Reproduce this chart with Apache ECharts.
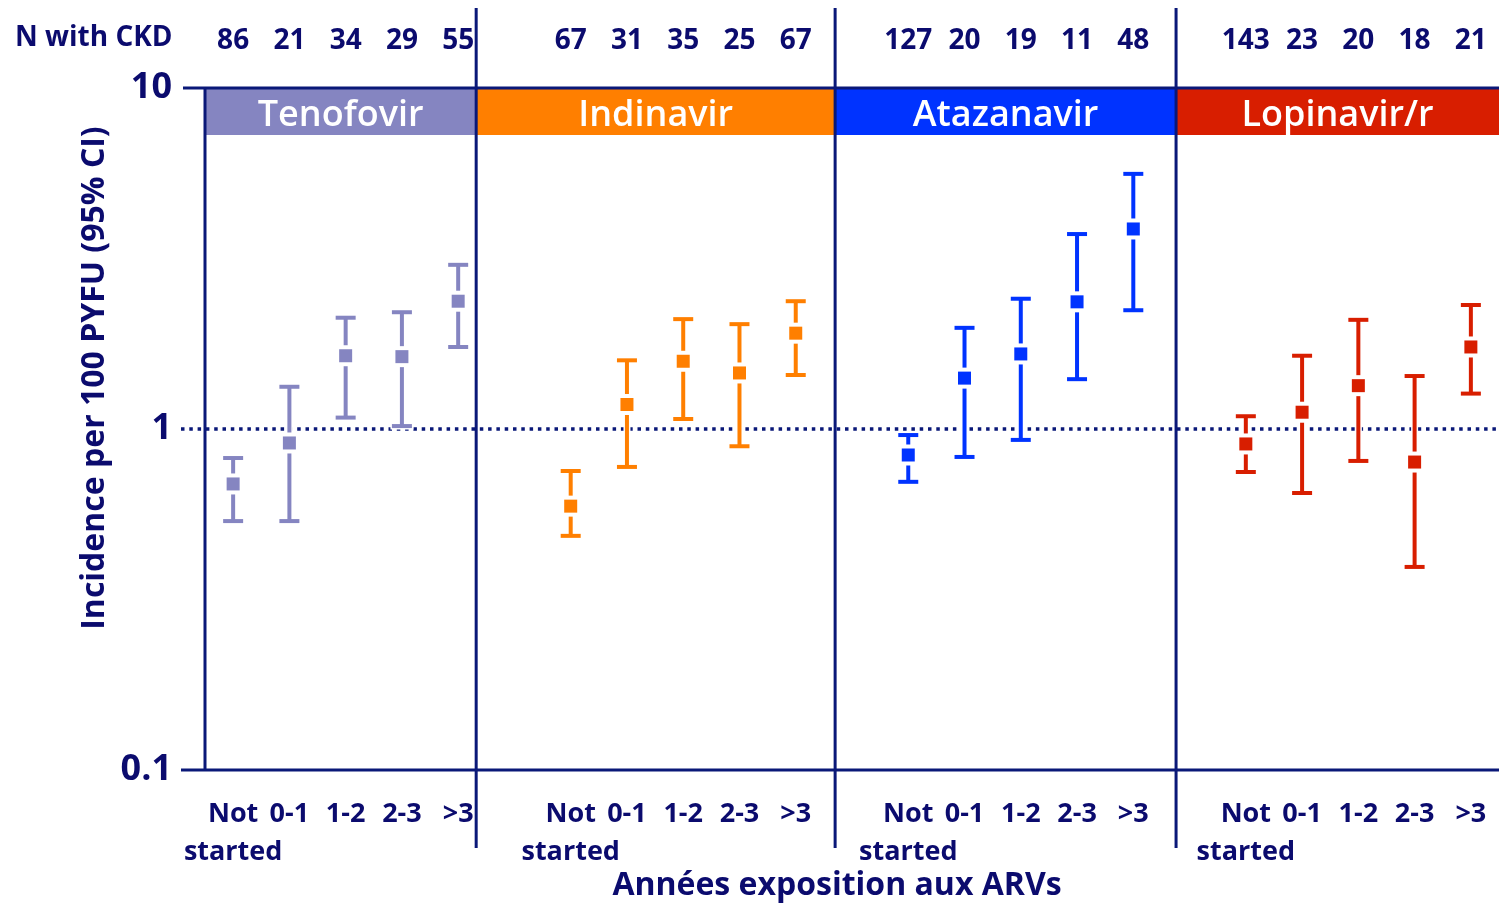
<!DOCTYPE html>
<html>
<head>
<meta charset="utf-8">
<script src="https://cdn.jsdelivr.net/npm/echarts@6/dist/echarts.min.js"></script>
<style>
html,body{margin:0;padding:0;background:#fff;}
#chart{width:1499px;height:904px;}
</style>
</head>
<body>
<div id="chart"></div>
<script>
// ---- Data ----
const groups = ['Tenofovir', 'Indinavir', 'Atazanavir', 'Lopinavir/r'];
const exposure = ['Not\nstarted', '0-1', '1-2', '2-3', '>3'];

const nTenofovir  = [86, 21, 34, 29, 55];
const nIndinavir  = [67, 31, 35, 25, 67];
const nAtazanavir = [127, 20, 19, 11, 48];
const nLopinavir  = [143, 23, 20, 18, 21];

const incTenofovir  = [0.69, 0.91, 1.64, 1.63, 2.37];
const lowTenofovir  = [0.537, 0.537, 1.08, 1.02, 1.74];
const highTenofovir = [0.822, 1.33, 2.12, 2.20, 3.03];

const incIndinavir  = [0.594, 1.18, 1.58, 1.46, 1.91];
const lowIndinavir  = [0.486, 0.774, 1.07, 0.89, 1.44];
const highIndinavir = [0.753, 1.59, 2.10, 2.03, 2.37];

const incAtazanavir  = [0.839, 1.41, 1.66, 2.36, 3.86];
const lowAtazanavir  = [0.70, 0.828, 0.929, 1.40, 2.23];
const highAtazanavir = [0.96, 1.98, 2.41, 3.73, 5.60];

const incLopinavir  = [0.904, 1.12, 1.34, 0.80, 1.74];
const lowLopinavir  = [0.748, 0.649, 0.806, 0.394, 1.27];
const highLopinavir = [1.09, 1.64, 2.09, 1.43, 2.31];

const yTicks = [0.1, 1, 10];

// ---- Styling / layout ----
const groupColors = ['#8585c1', '#ff7f00', '#0033ff', '#d81e00'];
const navy = '#0b0b6e';
const lineNavy = '#0a1878';
const FONT = '"Open Sans", "Noto Sans", sans-serif';
const GRID = {left: 205, right: 0, top: 88, bottom: 134};
const dividerUnits = [4.82, 11.2, 17.26]; // panel boundaries in category units

const nAll = [nTenofovir, nIndinavir, nAtazanavir, nLopinavir];
const incAll = [incTenofovir, incIndinavir, incAtazanavir, incLopinavir];
const lowAll = [lowTenofovir, lowIndinavir, lowAtazanavir, lowLopinavir];
const highAll = [highTenofovir, highIndinavir, highAtazanavir, highLopinavir];

const categories = [];
const topLabels = [];
const seriesData = groups.map(() => []);
groups.forEach((g, gi) => {
  if (gi > 0) { categories.push(''); topLabels.push(''); }
  exposure.forEach((e, i) => {
    const idx = categories.length;
    categories.push(e);
    topLabels.push(String(nAll[gi][i]));
    seriesData[gi].push([idx, lowAll[gi][i], highAll[gi][i], incAll[gi][i]]);
  });
});

function renderErrorBar(params, api) {
  const x = api.value(0);
  const pLo = api.coord([x, api.value(1)]);
  const pHi = api.coord([x, api.value(2)]);
  const pPt = api.coord([x, api.value(3)]);
  const color = api.visual('color');
  const cx = pPt[0];
  const capW = 20, capH = 4, lw = 4, sq = 13, gap = 4;
  return {
    type: 'group',
    children: [
      {type: 'line', shape: {x1: cx, y1: pHi[1], x2: cx, y2: pLo[1]}, style: {stroke: '#ffffff', lineWidth: lw + 3}},
      {type: 'rect', shape: {x: cx - capW / 2 - 1.5, y: pHi[1] - capH / 2 - 1.5, width: capW + 3, height: capH + 3}, style: {fill: '#ffffff'}},
      {type: 'rect', shape: {x: cx - capW / 2 - 1.5, y: pLo[1] - capH / 2 - 1.5, width: capW + 3, height: capH + 3}, style: {fill: '#ffffff'}},
      {type: 'line', shape: {x1: cx, y1: pHi[1], x2: cx, y2: pLo[1]}, style: {stroke: color, lineWidth: lw}},
      {type: 'rect', shape: {x: cx - capW / 2, y: pHi[1] - capH / 2, width: capW, height: capH}, style: {fill: color}},
      {type: 'rect', shape: {x: cx - capW / 2, y: pLo[1] - capH / 2, width: capW, height: capH}, style: {fill: color}},
      {type: 'rect', shape: {x: cx - sq / 2 - 1.5, y: pPt[1] - sq / 2 - gap, width: sq + 3, height: sq + 2 * gap}, style: {fill: '#ffffff'}},
      {type: 'rect', shape: {x: cx - sq / 2, y: pPt[1] - sq / 2, width: sq, height: sq}, style: {fill: color}}
    ]
  };
}

const chart = echarts.init(document.getElementById('chart'), null, {renderer: 'canvas'});

const option = {
  animation: false,
  backgroundColor: '#ffffff',
  grid: GRID,
  xAxis: [
    {
      type: 'category', data: categories, position: 'bottom',
      axisLine: {show: false}, axisTick: {show: false}, splitLine: {show: false},
      axisLabel: {interval: 0, color: navy, fontFamily: FONT, fontWeight: 'bold', fontSize: 27, lineHeight: 38, margin: 25, align: 'center'}
    },
    {
      type: 'category', data: topLabels, position: 'top',
      axisLine: {show: false}, axisTick: {show: false}, splitLine: {show: false},
      axisLabel: {interval: 0, color: navy, fontFamily: FONT, fontWeight: 'bold', fontSize: 28, margin: 33}
    }
  ],
  yAxis: {
    type: 'log', logBase: 10, min: yTicks[0], max: yTicks[yTicks.length - 1],
    axisLine: {show: false}, axisTick: {show: false}, splitLine: {show: false},
    axisLabel: {color: navy, fontFamily: FONT, fontWeight: 'bold', fontSize: 36, margin: 33,
      formatter: v => String(Number(v.toPrecision(3)))}
  },
  series: groups.map((g, gi) => ({
    type: 'custom', name: g, xAxisIndex: 0, yAxisIndex: 0,
    itemStyle: {color: groupColors[gi]},
    encode: {x: 0, y: [1, 2, 3]},
    renderItem: renderErrorBar,
    data: seriesData[gi],
    z: 5
  }))
};
chart.setOption(option);

// ---- Frame, panel headers, dividers ----
const W = 1499;
const gridW = W - GRID.left - GRID.right;
const band = gridW / categories.length;
const uToPx = u => GRID.left + u * band;
const yTop = chart.convertToPixel({yAxisIndex: 0}, yTicks[2]);
const yMid = chart.convertToPixel({yAxisIndex: 0}, yTicks[1]);
const yBot = chart.convertToPixel({yAxisIndex: 0}, yTicks[0]);
const bounds = [0].concat(dividerUnits, [categories.length]);
const headerH = 47;

const graphics = [];
groups.forEach((g, gi) => {
  const x0 = uToPx(bounds[gi]), x1 = uToPx(bounds[gi + 1]);
  graphics.push({type: 'rect', z: 1, shape: {x: x0, y: yTop, width: x1 - x0, height: headerH}, style: {fill: groupColors[gi]}});
  graphics.push({type: 'text', z: 3, x: (x0 + x1) / 2, y: yTop + headerH / 2 + 4,
    style: {text: g, fill: '#ffffff', font: '600 36px ' + FONT, textAlign: 'center', textVerticalAlign: 'middle'}});
});
// dotted reference line at 1
graphics.push({type: 'line', z: 2, shape: {x1: 181, y1: yMid, x2: W, y2: yMid},
  style: {stroke: lineNavy, lineWidth: 3.5, lineDash: [3.5, 4.8]}});
// top and bottom frame lines
graphics.push({type: 'line', z: 4, shape: {x1: 183, y1: yTop, x2: W, y2: yTop}, style: {stroke: lineNavy, lineWidth: 3}});
graphics.push({type: 'line', z: 4, shape: {x1: 181, y1: yBot, x2: W, y2: yBot}, style: {stroke: lineNavy, lineWidth: 3}});
// y axis
graphics.push({type: 'line', z: 4, shape: {x1: GRID.left, y1: yTop, x2: GRID.left, y2: yBot}, style: {stroke: lineNavy, lineWidth: 3}});
// panel dividers
dividerUnits.forEach(u => {
  const x = uToPx(u);
  graphics.push({type: 'line', z: 4, shape: {x1: x, y1: 8, x2: x, y2: 848}, style: {stroke: lineNavy, lineWidth: 3}});
});
graphics.push({type: 'text', z: 3, x: 15, y: 38,
  style: {text: 'N with CKD', fill: navy, font: 'bold 28px ' + FONT, textAlign: 'left', textVerticalAlign: 'middle'}});
graphics.push({type: 'text', z: 3, x: 837, y: 886,
  style: {text: 'Années exposition aux ARVs', fill: navy, font: 'bold 32px ' + FONT, textAlign: 'center', textVerticalAlign: 'middle'}});
graphics.push({type: 'text', z: 3, x: 95, y: 378, rotation: Math.PI / 2,
  style: {text: 'Incidence per 100 PYFU (95% CI)', fill: navy, font: 'bold 32px ' + FONT, textAlign: 'center', textVerticalAlign: 'middle'}});

chart.setOption({graphic: {elements: graphics}});
</script>
</body>
</html>
